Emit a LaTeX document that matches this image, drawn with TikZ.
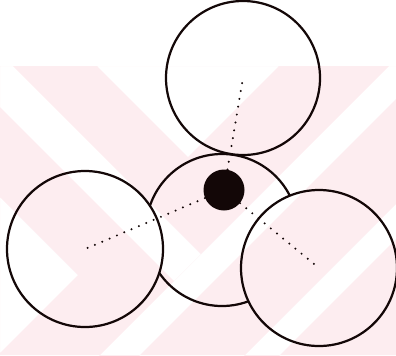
\documentclass[tikz,border=0pt]{standalone}
\usepackage{xcolor}
\usepackage{tikz}
\definecolor{marcarosa}{HTML}{FDEDF0}
\definecolor{tinta}{HTML}{140808}

\begin{document}
\begin{tikzpicture}[x=0.03cm, y=-0.03cm,
  esfera/.style={draw=tinta, fill=white, circle, line width=1.9pt, inner sep=0pt, outer sep=0pt},
  nucleo/.style={fill=tinta, circle, inner sep=0pt, minimum size=1.23cm},
  enlace/.style={tinta, line width=1.9pt, line cap=round, dash pattern=on 0pt off 6.8pt}]
\useasboundingbox (0,0) rectangle (396,355);
% esferas
\node[esfera, minimum size=4.56cm] (medio) at (222,230) {};
\node[esfera, minimum size=4.62cm] (arriba) at (243,78) {};
\node[esfera, minimum size=4.68cm] (izq) at (85,249) {};
\node[esfera, minimum size=4.68cm] (der) at (319,268) {};
\node[nucleo] (punto) at (224,190) {};
\draw[enlace] (punto) -- (arriba.center);
\draw[enlace] (punto) -- (izq.center);
\draw[enlace] (punto) -- (der.center);
% marca de agua del fondo
\begin{scope}[blend mode=multiply]
  \clip (0,66) rectangle (396,355);
  \fill[marcarosa, even odd rule] (0,66) rectangle (396,355)
    (97,66) -- (279,66) -- (188,157) -- cycle
    (0,53) -- (201,254) -- (174,281) -- (0,107) -- cycle
    (455,0) -- (495,0) -- (95,400) -- (55,400) -- cycle
    (600,0) -- (635,0) -- (235,400) -- (200,400) -- cycle
    (-10,187) -- (78,275) -- (-10,363) -- cycle;
\end{scope}
\end{tikzpicture}
\end{document}
